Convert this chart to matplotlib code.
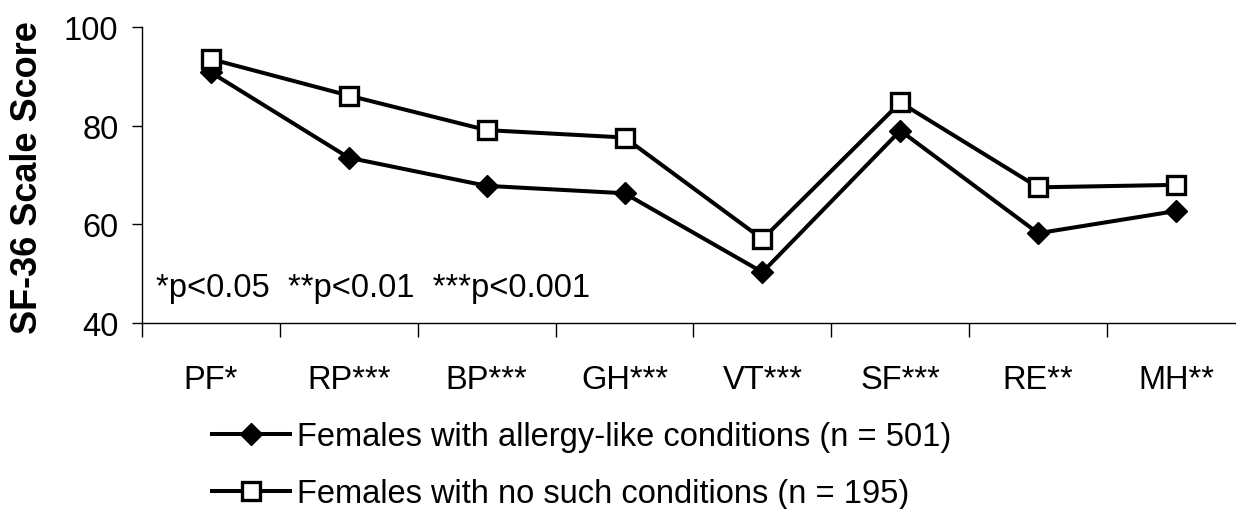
import matplotlib
matplotlib.use("Agg")
import matplotlib.pyplot as plt
from matplotlib.lines import Line2D

categories = ["PF*", "RP***", "BP***", "GH***", "VT***", "SF***", "RE**", "MH**"]
allergy = [90.8, 73.5, 67.8, 66.3, 50.3, 79.0, 58.2, 62.7]
no_such = [93.5, 86.1, 79.1, 77.6, 57.0, 84.7, 67.5, 68.0]
label_allergy = "Females with allergy-like conditions (n = 501)"
label_none = "Females with no such conditions (n = 195)"
yticks = [40, 60, 80, 100]
note = "*p<0.05  **p<0.01  ***p<0.001"

plt.rcParams['font.family'] = ['Liberation Sans', 'DejaVu Sans']
FS = 23.5
LW = 2.9

W, H = 1236, 510
fig = plt.figure(figsize=(W / 100, H / 100), dpi=100)
left, right, top, bottom = 142, 1245, 28, 324
ax = fig.add_axes([left / W, (H - bottom) / H, (right - left) / W, (bottom - top) / H])

x = list(range(len(categories)))
ax.plot(x, allergy, color='black', lw=LW, marker='D', markersize=11.5,
        markerfacecolor='black', markeredgecolor='black', markeredgewidth=1, zorder=3)
ax.plot(x, no_such, color='black', lw=LW, marker='s', markersize=12.5,
        markerfacecolor='white', markeredgecolor='black', markeredgewidth=2.4, zorder=4)

ax.set_xlim(-0.5, len(categories) - 0.5)
ax.set_ylim(40, 100)
ax.set_yticks(yticks)
ax.set_yticklabels([str(v) for v in yticks], fontsize=FS)
ax.set_xticks(x)
ax.set_xticklabels(categories, fontsize=FS)
ax.set_xticks([i - 0.5 for i in range(len(categories) + 1)], minor=True)
ax.tick_params(axis='x', which='major', length=0, pad=29.5)
ax.tick_params(axis='x', which='minor', length=10, width=1, direction='out')
ax.tick_params(axis='y', which='major', length=7, width=1, direction='out', pad=10)
for s in ['top', 'right']:
    ax.spines[s].set_visible(False)
for s in ['left', 'bottom']:
    ax.spines[s].set_linewidth(1)

ax.text((156 - left) / (right - left), (bottom - 297) / (bottom - top), note,
        transform=ax.transAxes, fontsize=FS, va='baseline', ha='left')

fig.text(28 / W, (H - 178) / H, "SF-36 Scale Score", rotation=90, fontsize=26,
         fontweight='bold', ha='center', va='center')

handles = [
    Line2D([], [], color='black', lw=LW, marker='D', markersize=11.5,
           markerfacecolor='black', markeredgecolor='black', markeredgewidth=1),
    Line2D([], [], color='black', lw=LW, marker='s', markersize=12.5,
           markerfacecolor='white', markeredgecolor='black', markeredgewidth=2.4),
]
fig.legend(handles, [label_allergy, label_none], loc='upper left',
           bbox_to_anchor=(212 / W, (H - 422) / H), frameon=False, fontsize=FS,
           handlelength=2.4, handletextpad=0.2, labelspacing=0.8,
           borderpad=0, borderaxespad=0, numpoints=1)

fig.savefig("out.png", dpi=100)
